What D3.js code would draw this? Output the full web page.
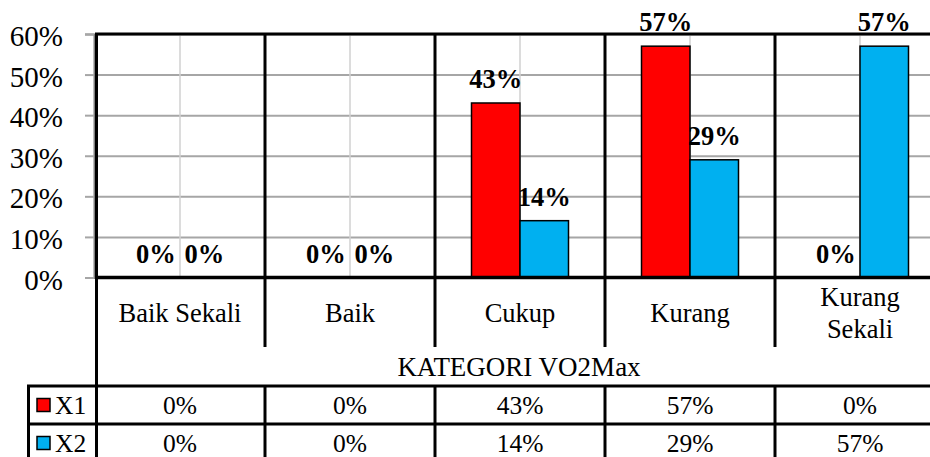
<!DOCTYPE html>
<html>
<head>
<meta charset="utf-8">
<script src="https://cdn.jsdelivr.net/npm/d3@7"></script>
<style>
  html, body { margin: 0; padding: 0; background: #fff; }
  svg { display: block; }
</style>
</head>
<body>
<div id="chart"></div>
<script>
// data
const categories = ['Baik Sekali', 'Baik', 'Cukup', 'Kurang', 'Kurang Sekali'];
const seriesNames = ['X1', 'X2'];
const x1Values = [0, 0, 0.43, 0.57, 0];
const x2Values = [0, 0, 0.14, 0.29, 0.57];
const yTicks = [0, 0.1, 0.2, 0.3, 0.4, 0.5, 0.6];
const axisTitle = 'KATEGORI VO2Max';
const seriesColors = ['#ff0000', '#00b0f0'];

const FONT = 'Liberation Serif';
const width = 930, height = 457;
const plot = { left: 95, right: 945, top: 34, bottom: 277.5 };
const catAxisBottom = 347;
const table = { left: 27, top: 386, row: 38 };

const svg = d3.select('#chart').append('svg')
  .attr('width', width)
  .attr('height', height)
  .attr('font-family', FONT);

const x = d3.scaleBand().domain(categories).range([plot.left, plot.right]);
const xSub = d3.scaleBand().domain(seriesNames).range([36.5, 133.5]);
const y = d3.scaleLinear().domain([0, 0.6]).range([plot.bottom, plot.top]);
const pct = d3.format('.0%');

const rows = categories.map((c, i) => ({ cat: c, values: [x1Values[i], x2Values[i]] }));

// horizontal grid
svg.append('g')
  .attr('transform', `translate(${plot.left},0)`)
  .call(d3.axisLeft(y).tickValues(yTicks).tickSize(-(plot.right - plot.left)).tickFormat(''))
  .call(g => g.select('.domain').remove())
  .call(g => g.selectAll('line').attr('stroke', '#a6a6a6').attr('stroke-width', 2));

// vertical light grid at category centres
svg.append('g').selectAll('line')
  .data(categories)
  .enter()
  .append('line')
  .attr('x1', d => x(d) + x.bandwidth() / 2)
  .attr('x2', d => x(d) + x.bandwidth() / 2)
  .attr('y1', plot.top)
  .attr('y2', plot.bottom)
  .attr('stroke', '#d0d0d0')
  .attr('stroke-width', 1.5);

// y axis ticks + labels
svg.append('g')
  .attr('transform', `translate(${plot.left - 1},0)`)
  .call(d3.axisLeft(y).tickValues(yTicks).tickSize(9).tickPadding(22).tickFormat(pct))
  .attr('font-family', FONT)
  .attr('font-size', 29)
  .call(g => g.select('.domain').attr('stroke', '#808080').attr('stroke-width', 2))
  .call(g => g.selectAll('line').attr('stroke', '#a6a6a6').attr('stroke-width', 2))
  .call(g => g.selectAll('text')
    .attr('fill', '#000')
    .attr('dy', '0.4em'));

// bars
const groups = svg.append('g').selectAll('g')
  .data(rows)
  .enter()
  .append('g')
  .attr('transform', d => `translate(${x(d.cat)},0)`);

groups.selectAll('rect')
  .data(d => d.values.map((v, i) => ({ name: seriesNames[i], v: v, i: i })).filter(d => d.v > 0))
  .enter()
  .append('rect')
  .attr('x', d => xSub(d.name))
  .attr('width', xSub.bandwidth())
  .attr('y', d => y(d.v))
  .attr('height', d => y(0) - y(d.v))
  .attr('fill', d => seriesColors[d.i])
  .attr('stroke', '#000')
  .attr('stroke-width', 1.5);

// data labels
groups.selectAll('text.lbl')
  .data(d => d.values.map((v, i) => ({ name: seriesNames[i], v: v })))
  .enter()
  .append('text')
  .attr('class', 'lbl')
  .attr('x', d => xSub(d.name) + xSub.bandwidth() / 2)
  .attr('y', d => y(d.v) - 15)
  .attr('text-anchor', 'middle')
  .attr('font-family', FONT)
  .attr('font-size', 26.5)
  .attr('font-weight', 'bold')
  .text(d => pct(d.v));

// frame lines
const black = (x1, y1, x2, y2, w) => svg.append('line')
  .attr('x1', x1).attr('y1', y1).attr('x2', x2).attr('y2', y2)
  .attr('stroke', '#000').attr('stroke-width', w || 3);

black(plot.left, plot.top, plot.right, plot.top);
black(plot.left, plot.bottom, plot.right, plot.bottom, 3.5);
black(plot.left + 1.5, plot.top, plot.left + 1.5, height);
categories.slice(1).forEach(c => {
  black(x(c), plot.top, x(c), catAxisBottom);
  black(x(c), table.top, x(c), height);
});
black(table.left, table.top, plot.right, table.top);
black(table.left, table.top + table.row, plot.right, table.top + table.row);
black(table.left + 1.5, table.top, table.left + 1.5, height);

// category labels
svg.append('g').selectAll('text')
  .data(categories)
  .enter()
  .append('text')
  .attr('text-anchor', 'middle')
  .attr('font-family', FONT)
  .attr('font-size', 26.5)
  .attr('y', 313)
  .each(function (d) {
    const t = d3.select(this);
    const cx = x(d) + x.bandwidth() / 2;
    const words = d === 'Kurang Sekali' ? ['Kurang', 'Sekali'] : [d];
    words.forEach((w, i) => {
      t.append('tspan')
        .attr('x', cx)
        .attr('dy', i === 0 ? (words.length > 1 ? '-0.27em' : '0.35em') : '1.2em')
        .text(w);
    });
  });

// axis title
svg.append('text')
  .attr('x', (x(categories[0]) + x(categories[4]) + x.bandwidth()) / 2 - 1)
  .attr('y', 367)
  .attr('dy', '0.35em')
  .attr('text-anchor', 'middle')
  .attr('font-family', FONT)
  .attr('font-size', 27)
  .text(axisTitle);

// data table
const tableRows = [x1Values, x2Values];
tableRows.forEach((vals, r) => {
  const cy = table.top + table.row * r + table.row / 2;
  svg.append('rect')
    .attr('x', 37).attr('y', cy - 6.5)
    .attr('width', 13).attr('height', 13)
    .attr('fill', seriesColors[r])
    .attr('stroke', '#000').attr('stroke-width', 1.5);
  svg.append('text')
    .attr('x', 55).attr('y', cy)
    .attr('dy', '0.35em')
    .attr('font-family', FONT)
    .attr('font-size', 25.5)
    .text(seriesNames[r]);
  svg.append('g').selectAll('text')
    .data(vals)
    .enter()
    .append('text')
    .attr('x', (d, i) => x(categories[i]) + x.bandwidth() / 2)
    .attr('y', cy)
    .attr('dy', '0.35em')
    .attr('text-anchor', 'middle')
    .attr('font-family', FONT)
    .attr('font-size', 25.5)
    .text(d => pct(d));
});
</script>
</body>
</html>
